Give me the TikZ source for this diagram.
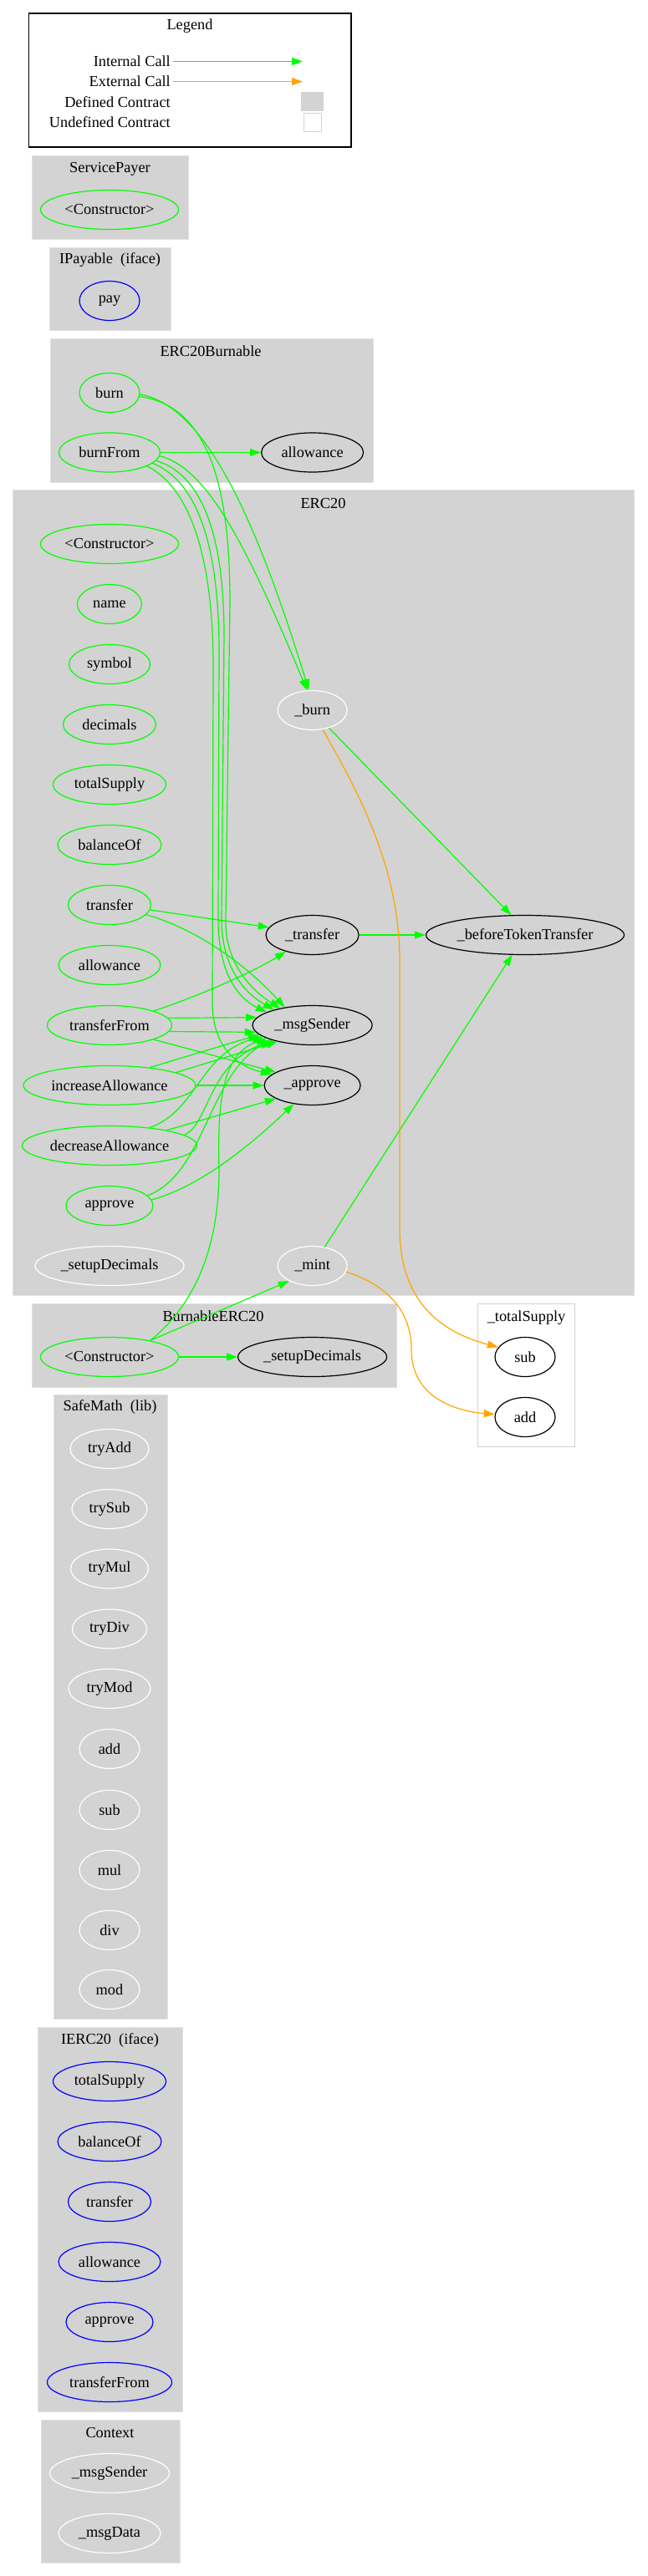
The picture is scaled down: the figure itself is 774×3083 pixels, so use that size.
\documentclass[tikz,border=0pt]{standalone}
\usepackage{fontspec}
\setmainfont{Liberation Serif}
\usetikzlibrary{shapes.geometric,arrows.meta}
\definecolor{gvgreen}{HTML}{00FF00}
\definecolor{gvorange}{HTML}{FFA500}
\definecolor{gvblue}{HTML}{0000FF}
\definecolor{gvgray}{HTML}{D3D3D3}
\definecolor{gvline}{HTML}{E2E2E2}
\tikzset{
  fn/.style={ellipse, draw, line width=1.2pt, minimum height=47pt, inner sep=0pt},
  gr/.style={draw=gvgreen},
  bl/.style={draw=gvblue},
  bk/.style={draw=black},
  wh/.style={draw=white},
  clus/.style={fill=gvgray, draw=gvline, line width=1pt},
  ttl/.style={inner sep=0pt},
  int/.style={draw=gvgreen, line width=1.2pt, -{Triangle[length=13pt,width=9pt]}},
  ext/.style={draw=gvorange, line width=1.2pt, -{Triangle[length=13pt,width=9pt]}},
}
\begin{document}
\begin{tikzpicture}[x=1pt,y=-1pt,font=\fontsize{18.3}{22}\selectfont]
\useasboundingbox[fill=white] (0,0) rectangle (774,3083);

% ---------------- Legend
\draw[line width=1.3pt] (34.5,16) rectangle (420,176);
\node[ttl] (legT) at (227,31) {Legend};
\node[anchor=east, inner sep=3pt] (lInt) at (207,73.5) {Internal Call};
\node[anchor=east, inner sep=3pt] (lExt) at (207,97.6) {External Call};
\node[anchor=east, inner sep=3pt] (lDef) at (207,122) {Defined Contract};
\node[anchor=east, inner sep=3pt] (lUnd) at (207,146) {Undefined Contract};
\coordinate (lIntE) at (362,73.5);
\coordinate (lExtE) at (362,97.6);
\draw[int] (lInt.east) -- (lIntE);
\draw[ext] (lExt.east) -- (lExtE);
\node[fill=gvgray, minimum width=26.5pt, minimum height=23pt, inner sep=0pt] (lDefBox) at (373.25,121.5) {};
\node[draw=gvgray, fill=white, line width=1pt, minimum width=21.5pt, minimum height=21pt, inner sep=0pt] (lUndBox) at (373.75,146.5) {};

% ---------------- ServicePayer
\draw[clus] (38,186) rectangle (225.5,286);
\node[ttl] (tSP) at (131.5,202) {ServicePayer};
\node[fn, gr, minimum width=165pt] (spCtor) at (131,251) {<Constructor>};

% ---------------- IPayable
\draw[clus] (59,296) rectangle (204,395);
\node[ttl] (tIP) at (131.5,311) {IPayable~~(iface)};
\node[fn, bl, minimum width=72pt] (pay) at (131,360) {pay};

% ---------------- ERC20Burnable
\draw[clus] (60,405) rectangle (446,577);
\node[ttl] (tEB) at (252,420) {ERC20Burnable};
\node[fn, gr, minimum width=72pt] (burn) at (131,470) {burn};
\node[fn, gr, minimum width=121pt] (burnFrom) at (131,541.5) {burnFrom};
\node[fn, bk, minimum width=122pt] (allowB) at (373.6,541.5) {allowance};

% ---------------- ERC20
\draw[clus] (15,586) rectangle (758.7,1550);
\node[ttl] (tE) at (386.5,602) {ERC20};
\node[fn, gr, minimum width=165pt] (eCtor) at (131,651) {<Constructor>};
\node[fn, gr, minimum width=77pt] (eName) at (131,723) {name};
\node[fn, gr, minimum width=97pt] (eSym) at (131,795) {symbol};
\node[fn, gr, minimum width=111pt] (eDec) at (131,867) {decimals};
\node[fn, gr, minimum width=135pt] (eTS) at (131,939) {totalSupply};
\node[fn, gr, minimum width=124pt] (eBal) at (131,1011) {balanceOf};
\node[fn, gr, minimum width=99pt] (transfer) at (131,1083) {transfer};
\node[fn, gr, minimum width=122pt] (eAll) at (131,1155) {allowance};
\node[fn, gr, minimum width=149pt] (tF) at (131,1227) {transferFrom};
\node[fn, gr, minimum width=206pt] (incA) at (131,1299) {increaseAllowance};
\node[fn, gr, minimum width=209pt] (decA) at (131,1371) {decreaseAllowance};
\node[fn, gr, minimum width=104pt] (appr) at (131,1443) {approve};
\node[fn, wh, minimum width=178pt] (eSetup) at (131,1515) {\_setupDecimals};
\node[fn, wh, minimum width=83pt] (burnI) at (373.6,850) {\_burn};
\node[fn, bk, minimum width=111pt] (trI) at (373.6,1119) {\_transfer};
\node[fn, bk, minimum width=143pt] (msgS) at (373.6,1227) {\_msgSender};
\node[fn, bk, minimum width=115pt] (apprI) at (373.6,1299) {\_approve};
\node[fn, wh, minimum width=83pt] (mintI) at (373.6,1515) {\_mint};
\node[fn, bk, minimum width=237pt] (bTT) at (628,1119) {\_beforeTokenTransfer};

% ---------------- BurnableERC20
\draw[clus] (38,1560) rectangle (474,1660);
\node[ttl] (tBE) at (255,1575) {BurnableERC20};
\node[fn, gr, minimum width=165pt] (ctorB) at (131,1624) {<Constructor>};
\node[fn, bk, minimum width=178pt] (setupB) at (373.6,1624) {\_setupDecimals};

% ---------------- _totalSupply
\draw[fill=white, draw=gvgray, line width=1pt] (571.6,1560) rectangle (687.6,1731);
\node[ttl] (tTS) at (629.6,1577) {\_totalSupply};
\node[fn, bk, minimum width=72pt] (subN) at (628,1624) {sub};
\node[fn, bk, minimum width=72pt] (addN) at (628,1696) {add};

% ---------------- SafeMath
\draw[clus] (64,1669) rectangle (200,2416);
\node[ttl] (tSM) at (131.5,1684) {SafeMath~~(lib)};
\node[fn, wh, minimum width=94pt] (smTA) at (131,1734) {tryAdd};
\node[fn, wh, minimum width=90pt] (smTS) at (131,1806) {trySub};
\node[fn, wh, minimum width=93pt] (smTM) at (131,1877.5) {tryMul};
\node[fn, wh, minimum width=89pt] (smTD) at (131,1949.5) {tryDiv};
\node[fn, wh, minimum width=98pt] (smTMo) at (131,2021) {tryMod};
\node[fn, wh, minimum width=72pt] (smAdd) at (131,2093) {add};
\node[fn, wh, minimum width=72pt] (smSub) at (131,2166) {sub};
\node[fn, wh, minimum width=72pt] (smMul) at (131,2238) {mul};
\node[fn, wh, minimum width=72pt] (smDiv) at (131,2310) {div};
\node[fn, wh, minimum width=72pt] (smMod) at (131,2381) {mod};

% ---------------- IERC20
\draw[clus] (45,2426.5) rectangle (218,2886);
\node[ttl] (tIE) at (131.5,2442) {IERC20~~(iface)};
\node[fn, bl, minimum width=135pt] (iTS) at (131,2491) {totalSupply};
\node[fn, bl, minimum width=124pt] (iBal) at (131,2563) {balanceOf};
\node[fn, bl, minimum width=99pt] (iTr) at (131,2635) {transfer};
\node[fn, bl, minimum width=122pt] (iAll) at (131,2707) {allowance};
\node[fn, bl, minimum width=104pt] (iAppr) at (131,2779) {approve};
\node[fn, bl, minimum width=149pt] (iTF) at (131,2851) {transferFrom};

% ---------------- Context
\draw[clus] (49,2896) rectangle (215,3067);
\node[ttl] (tCx) at (131.5,2911) {Context};
\node[fn, wh, minimum width=143pt] (cMsgS) at (131,2960) {\_msgSender};
\node[fn, wh, minimum width=122pt] (cMsgD) at (131,3032) {\_msgData};

% ---------------- edges
\draw[int] (burnFrom.east) -- (allowB.west);
\draw[int] (burn.-3) .. controls (240,485) and (300,600) .. (burnI.100);
\draw[int] (burnFrom.-4) .. controls (245,560) and (290,640) .. (burnI.105);
\draw[int] (burn.-7) .. controls (240,485) and (275,560) .. (275,720) -- (270,1100) .. controls (268,1150) and (300,1185) .. (msgS.152);
\draw[int] (burnFrom.-10) .. controls (232,565) and (268,620) .. (268,760) -- (265,1100) .. controls (265,1160) and (295,1190) .. (msgS.158);
\draw[int] (burnFrom.-14) .. controls (226,572) and (262,630) .. (262,780) -- (261,1100) .. controls (261,1165) and (285,1195) .. (msgS.164);
\draw[int] (burnFrom.-20) .. controls (216,578) and (255,640) .. (255,800) -- (254,1200) .. controls (254,1250) and (280,1275) .. (apprI.165);

\draw[int] (transfer.-7) -- (trI.170);
\draw[int] (transfer.-15) .. controls (230,1110) and (290,1150) .. (msgS.147);

\draw[int] (tF.18) .. controls (230,1195) and (300,1165) .. (trI.212);
\draw[int] (tF.7) -- (msgS.172);
\draw[int] (tF.-6) -- (msgS.187);
\draw[int] (tF.-18) -- (apprI.160);

\draw[int] (incA.24) -- (msgS.190);
\draw[int] (incA.11) -- (msgS.205);
\draw[int] (incA.east) -- (apprI.west);

\draw[int] (decA.24) .. controls (235,1330) and (240,1260) .. (msgS.193);
\draw[int] (decA.15) -- (apprI.200);
\draw[int] (decA.8) .. controls (250,1345) and (250,1270) .. (msgS.202);

\draw[int] (appr.15) .. controls (245,1405) and (248,1290) .. (msgS.199);
\draw[int] (appr.8) .. controls (240,1420) and (300,1370) .. (apprI.225);

\draw[int] (trI.east) -- (bTT.west);
\draw[int] (burnI.-47) -- (bTT.125);
\draw[int] (mintI.57) -- (bTT.237);
\draw[ext] (burnI.-62) .. controls (430,950) and (478,1040) .. (478,1150) -- (478,1470) .. controls (478,1560) and (530,1595) .. (subN.160);
\draw[ext] (mintI.-10) .. controls (470,1540) and (492,1575) .. (492,1615) .. controls (492,1670) and (540,1688) .. (addN.175);

\draw[int] (ctorB.east) -- (setupB.west);
\draw[int] (ctorB.22) -- (mintI.213);
\draw[int] (ctorB.22) .. controls (235,1560) and (262,1490) .. (262,1400) .. controls (260,1320) and (265,1262) .. (msgS.196);
\end{tikzpicture}
\end{document}
